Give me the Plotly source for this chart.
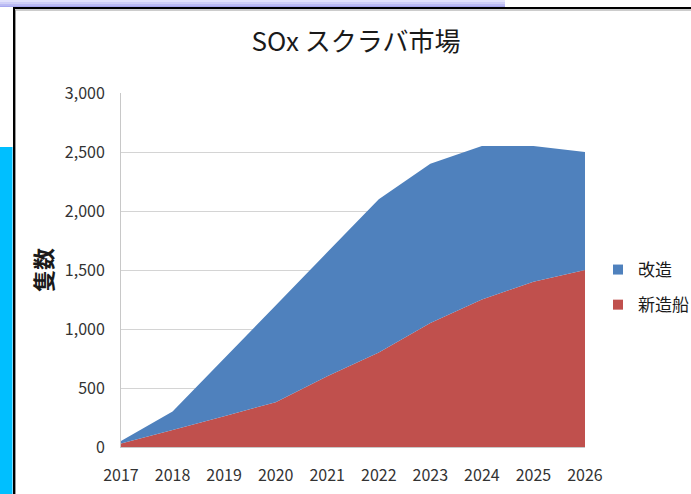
import plotly.graph_objects as go

years = [2017, 2018, 2019, 2020, 2021, 2022, 2023, 2024, 2025, 2026]
newbuild = [30, 145, 260, 380, 600, 800, 1050, 1250, 1400, 1500]      # 新造船
retrofit = [20, 155, 490, 820, 1050, 1300, 1350, 1300, 1150, 1000]    # 改造
y_ticks = [0, 500, 1000, 1500, 2000, 2500, 3000]
y_tick_text = ["0", "500", "1,000", "1,500", "2,000", "2,500", "3,000"]

BLUE = "#4F81BD"
RED = "#C0504D"
FONT = "Noto Sans CJK JP"
W, H = 691, 494

def px(x):
    return x / W

def py(y):
    return 1 - y / H

fig = go.Figure()
fig.add_trace(go.Scatter(x=years, y=newbuild, name="新造船", stackgroup="one",
                         mode="none", fillcolor=RED, showlegend=False, hoverinfo="skip"))
fig.add_trace(go.Scatter(x=years, y=retrofit, name="改造", stackgroup="one",
                         mode="none", fillcolor=BLUE, showlegend=False, hoverinfo="skip"))
# legend entries
fig.add_trace(go.Scatter(x=[None], y=[None], name="改造", mode="markers",
                         marker=dict(symbol="square", size=10, color=BLUE), legendgroup="a"))
fig.add_trace(go.Scatter(x=[None], y=[None], name="新造船", mode="markers",
                         marker=dict(symbol="square", size=10, color=RED), legendgroup="b"))

shapes = []
# top lavender band (approximate gradient)
band_cols = ["#e2e2fc", "#cfcff8", "#bcbcf4", "#a8a8f0"]
for i, c in enumerate(band_cols):
    shapes.append(dict(type="rect", xref="paper", yref="paper",
                       x0=px(0), x1=px(505), y0=py(i * 1.75), y1=py((i + 1) * 1.75),
                       fillcolor=c, line=dict(width=0), layer="below"))
# cyan block left
shapes.append(dict(type="rect", xref="paper", yref="paper", x0=px(0), x1=px(12.5),
                   y0=py(147), y1=py(494), fillcolor="#00BFFF", line=dict(width=0), layer="below"))
# grey shadow + black border lines
shapes.append(dict(type="line", xref="paper", yref="paper", x0=px(15), x1=1,
                   y0=py(10), y1=py(10), line=dict(color="#9a9a9a", width=1)))
shapes.append(dict(type="line", xref="paper", yref="paper", x0=px(15.5), x1=px(15.5),
                   y0=py(10), y1=0, line=dict(color="#9a9a9a", width=1)))
shapes.append(dict(type="line", xref="paper", yref="paper", x0=px(13), x1=1,
                   y0=py(8), y1=py(8), line=dict(color="#000000", width=2)))
shapes.append(dict(type="line", xref="paper", yref="paper", x0=px(14), x1=px(14),
                   y0=py(7), y1=0, line=dict(color="#000000", width=2)))

fig.update_layout(
    width=W, height=H,
    margin=dict(l=0, r=0, t=0, b=0, pad=0, autoexpand=False),
    paper_bgcolor="white", plot_bgcolor="white",
    font=dict(family=FONT, color="#404040", size=16),
    title=dict(text="SOx スクラバ市場", x=px(356), xanchor="center", y=py(42), yanchor="middle",
               xref="paper", yref="paper", automargin=False,
               font=dict(family=FONT, size=26, color="#1a1a1a")),
    xaxis=dict(domain=[px(121), px(585)], range=[2017, 2026], tickmode="array", tickvals=years,
               ticktext=[str(y) for y in years], showgrid=False, zeroline=False, automargin=False,
               showline=True, linecolor="#c8c8c8", linewidth=1, ticklabelstandoff=14,
               tickfont=dict(size=16, color="#333333")),
    yaxis=dict(domain=[py(447), py(93)], range=[0, 3000], tickmode="array", tickvals=y_ticks,
               ticktext=y_tick_text, showgrid=True, gridcolor="#d4d4d4", gridwidth=1, automargin=False,
               zeroline=False, showline=True, linecolor="#c8c8c8", linewidth=1,
               ticklabelstandoff=12, tickfont=dict(size=16, color="#333333"),
               title=dict(text="<b>隻数</b>", standoff=6, font=dict(size=22, color="#1a1a1a"))),
    legend=dict(x=px(598), y=py(252), xanchor="left", yanchor="top", traceorder="grouped",
                tracegroupgap=10, font=dict(size=17, color="#1a1a1a"), bgcolor="rgba(0,0,0,0)"),
    shapes=shapes,
    hovermode=False,
)

fig.write_html("out.html", config={"displayModeBar": False},
               post_script="document.body.style.margin='0px';document.body.style.overflow='hidden';")
